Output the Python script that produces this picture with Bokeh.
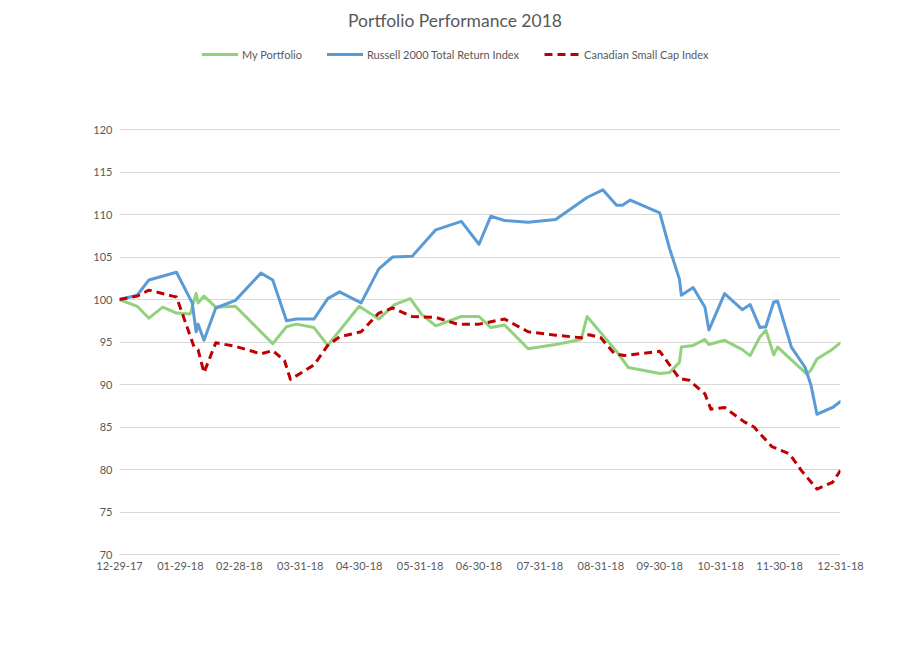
import pandas as pd
from bokeh.plotting import figure
from bokeh.models import Range1d, FixedTicker, Legend, LegendItem, Label
from bokeh.embed import file_html
from bokeh.resources import INLINE

# ---------------- data ----------------
title_text = "Portfolio Performance 2018"
series_names = ["My Portfolio", "Russell 2000 Total Return Index", "Canadian Small Cap Index"]

portfolio_dates = ["2017-12-29", "2018-01-07", "2018-01-13", "2018-01-20", "2018-01-27", "2018-02-03",
                   "2018-02-06", "2018-02-07", "2018-02-10", "2018-02-16", "2018-02-26", "2018-03-17",
                   "2018-03-24", "2018-03-29", "2018-04-07", "2018-04-14", "2018-04-30", "2018-05-10",
                   "2018-05-18", "2018-05-26", "2018-06-01", "2018-06-08", "2018-06-21", "2018-06-30",
                   "2018-07-06", "2018-07-13", "2018-07-25", "2018-08-08", "2018-08-21", "2018-08-24",
                   "2018-09-08", "2018-09-14", "2018-09-30", "2018-10-05", "2018-10-10", "2018-10-11",
                   "2018-10-17", "2018-10-23", "2018-10-25", "2018-11-02", "2018-11-11", "2018-11-15",
                   "2018-11-20", "2018-11-23", "2018-11-27", "2018-11-29", "2018-12-14", "2018-12-16",
                   "2018-12-19", "2018-12-26", "2018-12-31"]
portfolio_values = [100.0, 99.2, 97.8, 99.1, 98.4, 98.3,
                    100.7, 99.6, 100.4, 99.1, 99.2, 94.8,
                    96.8, 97.1, 96.7, 94.6, 99.2, 97.7,
                    99.4, 100.1, 98.2, 96.9, 98.0, 98.0,
                    96.7, 97.0, 94.2, 94.7, 95.3, 98.0,
                    93.9, 92.0, 91.3, 91.4, 92.6, 94.4,
                    94.6, 95.3, 94.7, 95.2, 94.1, 93.4,
                    95.6, 96.4, 93.5, 94.4, 91.2, 91.7,
                    93.0, 94.0, 94.9]

russell_dates = ["2017-12-29", "2018-01-07", "2018-01-13", "2018-01-27", "2018-02-04", "2018-02-06",
                 "2018-02-07", "2018-02-10", "2018-02-16", "2018-02-26", "2018-03-11", "2018-03-17",
                 "2018-03-24", "2018-03-29", "2018-04-07", "2018-04-14", "2018-04-20", "2018-05-01",
                 "2018-05-10", "2018-05-17", "2018-05-27", "2018-06-08", "2018-06-21", "2018-06-30",
                 "2018-07-06", "2018-07-13", "2018-07-25", "2018-08-08", "2018-08-24", "2018-09-01",
                 "2018-09-08", "2018-09-11", "2018-09-15", "2018-09-30", "2018-10-05", "2018-10-10",
                 "2018-10-11", "2018-10-17", "2018-10-23", "2018-10-25", "2018-11-02", "2018-11-11",
                 "2018-11-15", "2018-11-20", "2018-11-23", "2018-11-27", "2018-11-29", "2018-12-06",
                 "2018-12-13", "2018-12-16", "2018-12-19", "2018-12-27", "2018-12-31"]
russell_values = [100.0, 100.5, 102.3, 103.2, 99.6, 96.2,
                  97.1, 95.2, 99.0, 99.9, 103.1, 102.3,
                  97.5, 97.7, 97.7, 100.1, 100.9, 99.6,
                  103.6, 105.0, 105.1, 108.2, 109.2, 106.5,
                  109.8, 109.3, 109.1, 109.4, 112.0, 112.9,
                  111.1, 111.1, 111.7, 110.2, 106.0, 102.4,
                  100.5, 101.4, 99.1, 96.4, 100.7, 98.8,
                  99.4, 96.7, 96.8, 99.7, 99.8, 94.4,
                  92.0, 89.9, 86.5, 87.3, 88.0]

canada_dates = ["2017-12-29", "2018-01-07", "2018-01-13", "2018-01-25", "2018-01-27", "2018-02-05",
                "2018-02-07", "2018-02-10", "2018-02-16", "2018-02-26", "2018-03-11", "2018-03-17",
                "2018-03-23", "2018-03-26", "2018-04-07", "2018-04-14", "2018-04-20", "2018-05-01",
                "2018-05-10", "2018-05-17", "2018-05-27", "2018-06-08", "2018-06-19", "2018-06-30",
                "2018-07-13", "2018-07-25", "2018-08-08", "2018-08-21", "2018-08-25", "2018-08-31",
                "2018-09-07", "2018-09-12", "2018-09-30", "2018-10-10", "2018-10-15", "2018-10-23",
                "2018-10-26", "2018-11-02", "2018-11-12", "2018-11-17", "2018-11-26", "2018-12-05",
                "2018-12-11", "2018-12-19", "2018-12-27", "2018-12-31"]
canada_values = [100.0, 100.4, 101.1, 100.4, 100.3, 94.4,
                 94.1, 91.4, 94.9, 94.5, 93.6, 94.0,
                 92.8, 90.6, 92.3, 94.6, 95.6, 96.2,
                 98.4, 99.0, 98.0, 97.9, 97.1, 97.1,
                 97.7, 96.2, 95.8, 95.5, 95.85, 95.5,
                 93.6, 93.4, 93.9, 90.7, 90.5, 88.9,
                 87.1, 87.3, 85.6, 85.0, 82.7, 81.85,
                 79.9, 77.7, 78.5, 79.9]

x_tick_dates = ["2017-12-29", "2018-01-29", "2018-02-28", "2018-03-31", "2018-04-30", "2018-05-31",
                "2018-06-30", "2018-07-31", "2018-08-31", "2018-09-30", "2018-10-31", "2018-11-30",
                "2018-12-31"]
x_tick_labels = ["12-29-17", "01-29-18", "02-28-18", "03-31-18", "04-30-18", "05-31-18", "06-30-18",
                 "07-31-18", "08-31-18", "09-30-18", "10-31-18", "11-30-18", "12-31-18"]
y_ticks = [70, 75, 80, 85, 90, 95, 100, 105, 110, 115, 120]


def to_ms(lst):
    return [int(v) for v in (pd.to_datetime(lst).asi8 // 1_000_000)]


# ---------------- layout ----------------
FONT = "Lato"
TXT = "#595959"
GRID = "#d9d9d9"
frame_w, frame_h = 721, 541
px_per_unit = 8.5

x_ticks_ms = to_ms(x_tick_dates)

p = figure(width=901, height=652, x_axis_type="datetime",
           output_backend="svg", toolbar_location=None,
           x_range=Range1d(x_ticks_ms[0], x_ticks_ms[-1]),
           y_range=Range1d(y_ticks[0], y_ticks[0] + frame_h / px_per_unit),
           min_border_left=119, min_border_right=61, min_border_top=13, min_border_bottom=98)
p.title.visible = False
p.outline_line_color = None
p.background_fill_color = "white"
p.border_fill_color = "white"

r_port = p.line(pd.to_datetime(portfolio_dates), portfolio_values, line_color="#92D27E",
                line_width=3, line_join="round", line_cap="round")
r_rus = p.line(pd.to_datetime(russell_dates), russell_values, line_color="#5B9BD5",
               line_width=3, line_join="round", line_cap="round")
r_can = p.line(pd.to_datetime(canada_dates), canada_values, line_color="#C00000",
               line_width=3, line_join="round", line_dash="8 5")

# axes
p.yaxis.ticker = FixedTicker(ticks=y_ticks)
p.yaxis.axis_line_color = None
p.yaxis.major_tick_line_color = None
p.yaxis.minor_tick_line_color = None
p.yaxis.major_tick_in = 0
p.yaxis.major_tick_out = 0
p.yaxis.major_label_standoff = 7
p.yaxis.major_label_text_font = FONT
p.yaxis.major_label_text_font_size = "11px"
p.yaxis.major_label_text_color = TXT

p.xaxis.ticker = FixedTicker(ticks=x_ticks_ms)
p.xaxis.major_label_overrides = {t: l for t, l in zip(x_ticks_ms, x_tick_labels)}
p.xaxis.axis_line_color = GRID
p.xaxis.major_tick_line_color = None
p.xaxis.minor_tick_line_color = None
p.xaxis.major_tick_in = 0
p.xaxis.major_tick_out = 0
p.xaxis.major_label_standoff = 7
p.xaxis.major_label_text_font = FONT
p.xaxis.major_label_text_font_size = "11px"
p.xaxis.major_label_text_color = TXT

p.xgrid.grid_line_color = None
p.ygrid.grid_line_color = GRID
p.ygrid.grid_line_width = 1

# legend
legend = Legend(items=[LegendItem(label=series_names[0], renderers=[r_port]),
                       LegendItem(label=series_names[1], renderers=[r_rus]),
                       LegendItem(label=series_names[2], renderers=[r_can])],
                orientation="horizontal", location=(83, 490),
                glyph_width=36, glyph_height=20, label_standoff=4, spacing=25,
                padding=0, margin=0, border_line_color=None, background_fill_alpha=0,
                label_text_font=FONT, label_text_font_size="11px", label_text_color=TXT)
p.add_layout(legend)

title = Label(x=335.5, y=534, x_units="screen", y_units="screen", text=title_text,
              text_align="center", text_baseline="middle", text_font=FONT,
              text_font_size="17.5px", text_color=TXT)
p.add_layout(title)

open("out.html", "w").write(file_html(p, INLINE))
